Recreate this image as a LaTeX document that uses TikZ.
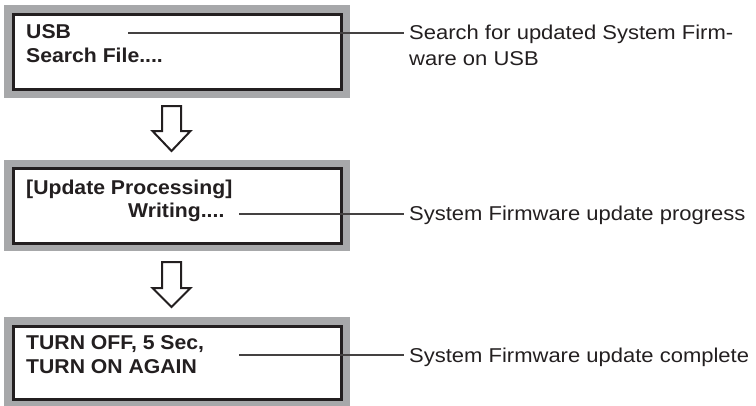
\documentclass[tikz,border=0pt]{standalone}
\usepackage{fontspec}
\newfontfamily\boxfont[FakeStretch=1.06]{Liberation Sans}
\newfontfamily\lblfont[FakeStretch=1.10]{Liberation Sans}
\definecolor{ink}{HTML}{231F20}
\definecolor{frame}{HTML}{A7A8AA}
\begin{document}
\begin{tikzpicture}[x=1pt,y=-1pt,
  outerbox/.style={fill=frame, draw=none, inner sep=0pt, outer sep=0pt},
  screen/.style={fill=white, draw=ink, line width=3pt, inner sep=0pt, outer sep=0pt},
  screentext/.style={inner sep=0pt, anchor=base west, text=ink, font=\boxfont\bfseries\fontsize{20}{24}\selectfont, align=left},
  label/.style={inner sep=0pt, anchor=base west, text=ink, font=\lblfont\fontsize{20}{26}\selectfont, align=left},
  leader/.style={draw=ink!85, line width=1.1pt},
  hollow/.style={draw=ink, line width=2pt, fill=white, line join=miter}
]
\clip (0,0) rectangle (756,405);
\useasboundingbox (0,0) rectangle (756,405);

% boxes
\node[outerbox, minimum width=346pt, minimum height=93pt] (g1) at (177,51.5) {};
\node[screen, minimum width=328pt, minimum height=75pt] (s1) at (177,51.5) {};
\node[outerbox, minimum width=346pt, minimum height=91pt] (g2) at (177,205.5) {};
\node[screen, minimum width=328pt, minimum height=75pt] (s2) at (177,205.5) {};
\node[outerbox, minimum width=346pt, minimum height=93pt] (g3) at (177,363.5) {};
\node[screen, minimum width=328pt, minimum height=73pt] (s3) at (177,362.5) {};

% screen texts (base = last line)
\node[screentext] (t1) at (26,62) {USB\\Search File....};
\node[screentext] (t2a) at (26,194) {[Update Processing]};
\node[screentext] (t2b) at (128,217) {Writing....};
\node[screentext] (t3) at (26,373) {TURN OFF, 5 Sec,\\TURN ON AGAIN};

% labels
\node[label] (l1) at (409,65) {Search for updated System Firm-\\ware on USB};
\node[label] (l2) at (409,220) {System Firmware update progress};
\node[label] (l3) at (409,362) {System Firmware update complete};

% leader lines
\coordinate (c1) at (128,33);
\coordinate (c2) at (239,214);
\coordinate (c3) at (239,355);
\draw[leader] (c1) -- ([xshift=-5pt]c1 -| l1.west);
\draw[leader] (c2) -- ([xshift=-5pt]c2 -| l2.west);
\draw[leader] (c3) -- ([xshift=-5pt]c3 -| l3.west);

% hollow arrows
\draw[hollow] (162,106) -- (181,106) -- (181,131) -- (190.5,131) -- (171.5,151)
  -- (152.5,131) -- (162,131) -- cycle;
\draw[hollow] (162,262) -- (181,262) -- (181,288) -- (190.5,288) -- (171.5,307)
  -- (152.5,288) -- (162,288) -- cycle;
\end{tikzpicture}
\end{document}
